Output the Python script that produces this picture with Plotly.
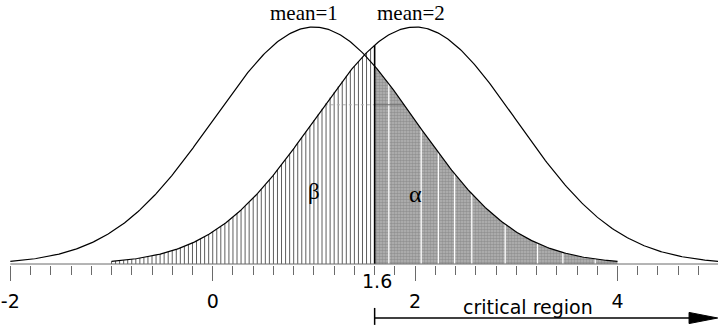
import numpy as np
import plotly.graph_objects as go

# Two unit-variance normal densities and the test's critical value
means = [1.0, 2.0]
sigma = 1.0
mean_labels = ["mean=1", "mean=2"]
critical_value = 1.6
curve_spans = [(-2.0, 4.0), (-1.0, 5.0)]   # x extent drawn for each density
alpha_end = 4.0                             # right end of the shaded alpha tail

# axis ticks
tick_major = [-2, 0, 2, 4]
tick_major_text = ["-2", "0", "2", "4"]
minor_step = 0.2

# hatching of the beta area and the light rules inside the alpha area
hatch_step = 0.04
alpha_rules = [1.74, 2.06, 2.23, 2.39, 2.56, 2.89, 3.21, 3.46, 3.78]
seam_level = 0.268

X_RANGE = [-2.102, 4.993]
Y_RANGE = [-0.00168, 0.4444]


def pdf(x, mu):
    x = np.asarray(x, dtype=float)
    return np.exp(-0.5 * ((x - mu) / sigma) ** 2) / (sigma * np.sqrt(2 * np.pi))


def segments(xs, y0, y1):
    """Vertical segments joined into one trace with None breaks."""
    sx, sy = [], []
    for x, a, b in zip(xs, y0, y1):
        sx += [x, x, None]
        sy += [a, b, None]
    return sx, sy


fig = go.Figure()

# alpha: tail of the mean=1 density beyond the critical value
xa = np.linspace(critical_value, alpha_end, 300)
fig.add_trace(go.Scatter(
    x=np.concatenate([[critical_value], xa, [alpha_end, critical_value]]),
    y=np.concatenate([[0], pdf(xa, means[0]), [0, 0]]),
    fill="toself", mode="lines", line=dict(width=0),
    fillcolor="#a0a0a0",
    fillpattern=dict(shape=".", size=3, solidity=0.6,
                     fgcolor="#6e6e6e", bgcolor="#b6b6b6"),
    hoverinfo="skip", showlegend=False,
))
rx, ry = segments(alpha_rules, [0] * len(alpha_rules), pdf(alpha_rules, means[0]))
fig.add_trace(go.Scatter(x=rx, y=ry, mode="lines",
                         line=dict(color="white", width=1.3),
                         hoverinfo="skip", showlegend=False))

# beta: vertical hatching under the mean=2 density left of the critical value
n_hatch = int(round((critical_value - curve_spans[1][0]) / hatch_step))
xh = curve_spans[1][0] + hatch_step * np.arange(n_hatch)
hx, hy = segments(xh, np.zeros_like(xh), pdf(xh, means[1]))
fig.add_trace(go.Scatter(x=hx, y=hy, mode="lines",
                         line=dict(color="#5e5e5e", width=1),
                         hoverinfo="skip", showlegend=False))

# faint seam across the shaded areas
z = np.sqrt(-2 * np.log(seam_level * sigma * np.sqrt(2 * np.pi))) * sigma
fig.add_trace(go.Scatter(x=[means[1] - z, critical_value], y=[seam_level] * 2,
                         mode="lines", line=dict(color="#b0b0b0", width=1, dash="dot"),
                         hoverinfo="skip", showlegend=False))
fig.add_trace(go.Scatter(x=[critical_value, means[0] + z], y=[seam_level] * 2,
                         mode="lines", line=dict(color="#6a6a6a", width=1),
                         hoverinfo="skip", showlegend=False))

# the two density curves
for mu, (a, b) in zip(means, curve_spans):
    xs = np.linspace(a, b, 400)
    fig.add_trace(go.Scatter(x=xs, y=pdf(xs, mu), mode="lines",
                             line=dict(color="black", width=1.2),
                             hoverinfo="skip", showlegend=False))

# boundary at the critical value
fig.add_trace(go.Scatter(x=[critical_value, critical_value],
                         y=[0, float(pdf(critical_value, means[1]))],
                         mode="lines", line=dict(color="black", width=1.6),
                         hoverinfo="skip", showlegend=False))

serif = "Liberation Serif"
sans = "DejaVu Sans"

annotations = []
for mu, lab, dx in zip(means, mean_labels, [-0.1, -0.04]):
    annotations.append(dict(x=mu + dx, y=0.951, xref="x", yref="paper", text=lab,
                            showarrow=False, font=dict(family=serif, size=21, color="black"),
                            xanchor="center", yanchor="middle"))
annotations += [
    dict(x=1.0, y=0.222, xref="x", yref="paper", text="β", showarrow=False,
         font=dict(family=serif, size=23, color="black")),
    dict(x=2.0, y=0.212, xref="x", yref="paper", text="α", showarrow=False,
         font=dict(family=serif, size=24, color="black")),
    dict(x=critical_value + 0.02, y=-0.06, xref="x", yref="paper", text=f"{critical_value:g}",
         showarrow=False, font=dict(family=sans, size=19, color="black"),
         xanchor="center", yanchor="middle"),
    dict(x=3.12, y=-0.158, xref="x", yref="paper", text="critical region",
         showarrow=False, font=dict(family=sans, size=19, color="black"),
         xanchor="center", yanchor="middle"),
]

arrow_y = -0.2
head_base = 4.707
shapes = [
    dict(type="line", xref="x", yref="y", x0=-2, x1=5, y0=0, y1=0,
         line=dict(color="#6a6a6a", width=1)),
    dict(type="line", xref="x", yref="paper", x0=critical_value, x1=head_base,
         y0=arrow_y, y1=arrow_y, line=dict(color="black", width=1.5)),
    dict(type="line", xref="x", yref="paper", x0=critical_value, x1=critical_value,
         y0=-0.162, y1=-0.226, line=dict(color="black", width=1.5)),
    dict(type="path", xref="x", yref="paper",
         path=f"M {head_base},{arrow_y + 0.021} L {X_RANGE[1] - 0.003},{arrow_y} "
              f"L {head_base},{arrow_y - 0.021} Z",
         fillcolor="black", line=dict(color="black", width=1)),
]

fig.update_layout(
    width=718, height=327,
    margin=dict(l=0, r=0, t=0, b=62),
    paper_bgcolor="white", plot_bgcolor="white",
    showlegend=False,
    annotations=annotations,
    shapes=shapes,
    xaxis=dict(
        range=X_RANGE, showgrid=False, zeroline=False, showline=False,
        tickmode="array", tickvals=tick_major, ticktext=tick_major_text,
        ticks="outside", ticklen=15, tickwidth=1, tickcolor="#6a6a6a",
        ticklabelstandoff=4,
        tickfont=dict(family=sans, size=19, color="black"),
        minor=dict(tickmode="linear", tick0=0, dtick=minor_step, ticks="outside",
                   ticklen=9, tickwidth=1, tickcolor="#6a6a6a", showgrid=False),
        automargin=False, fixedrange=True,
    ),
    yaxis=dict(range=Y_RANGE, visible=False, fixedrange=True),
)

fig.write_html("out.html")
